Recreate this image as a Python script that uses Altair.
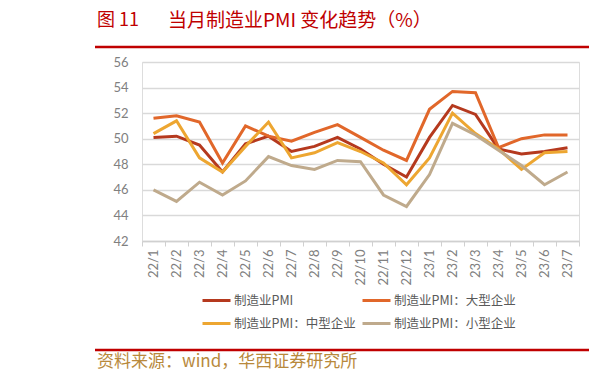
import altair as alt
import pandas as pd

months = ["22/1","22/2","22/3","22/4","22/5","22/6","22/7","22/8","22/9","22/10","22/11","22/12",
          "23/1","23/2","23/3","23/4","23/5","23/6","23/7"]
pmi_total  = [50.1,50.2,49.5,47.4,49.6,50.2,49.0,49.4,50.1,49.2,48.0,47.0,50.1,52.6,51.9,49.2,48.8,49.0,49.3]
pmi_large  = [51.6,51.8,51.3,48.1,51.0,50.2,49.8,50.5,51.1,50.1,49.1,48.3,52.3,53.7,53.6,49.3,50.0,50.3,50.3]
pmi_medium = [50.4,51.4,48.5,47.4,49.4,51.3,48.5,48.9,49.7,49.0,48.1,46.4,48.5,52.0,50.4,49.2,47.6,48.9,49.0]
pmi_small  = [46.0,45.1,46.6,45.6,46.7,48.6,47.9,47.6,48.3,48.2,45.6,44.7,47.2,51.2,50.3,49.1,47.9,46.4,47.4]

series_names = ["制造业PMI", "制造业PMI：大型企业", "制造业PMI：中型企业", "制造业PMI：小型企业"]
series_colors = ["#b5391e", "#e1672a", "#eda631", "#bfaa8c"]
# legend fills column by column: total, medium | large, small
legend_order = [series_names[0], series_names[2], series_names[1], series_names[3]]
legend_colors = [series_colors[0], series_colors[2], series_colors[1], series_colors[3]]

rows = []
for name, vals in zip(series_names, [pmi_total, pmi_large, pmi_medium, pmi_small]):
    for m, v in zip(months, vals):
        rows.append({"month": m, "series": name, "value": v})
df = pd.DataFrame(rows)

W, H = 437, 179

lines = alt.Chart(df).mark_line(strokeWidth=3).encode(
    x=alt.X("month:N", sort=months, title=None,
            scale=alt.Scale(paddingInner=0, paddingOuter=0),
            axis=alt.Axis(labelAngle=270, labelFont="Lato", labelFontSize=13, labelColor="#808080",
                          labelPadding=3, tickBand="extent", tickSize=5, tickColor="#d0d0d0",
                          domainColor="#d0d0d0", domainWidth=1.5, grid=False)),
    y=alt.Y("value:Q", title=None,
            scale=alt.Scale(domain=[42, 56], nice=False, zero=False),
            axis=alt.Axis(values=[42,44,46,48,50,52,54,56], labelFont="Lato", labelFontSize=13,
                          labelColor="#808080", labelPadding=14, ticks=False, domain=False,
                          grid=True, gridColor="#d9d9d9", gridWidth=1.5)),
    color=alt.Color("series:N",
                    scale=alt.Scale(domain=legend_order, range=legend_colors),
                    legend=alt.Legend(title=None, orient="none", legendX=59, legendY=223,
                                      columns=2, columnPadding=0, rowPadding=1,
                                      symbolType="stroke", symbolSize=784, symbolStrokeWidth=3,
                                      labelFont="Noto Sans CJK SC", labelFontSize=12.5,
                                      labelColor="#595959", labelOffset=2)),
)

title_a = alt.Chart(pd.DataFrame({"t": ["图 11"]})).mark_text(
    align="left", baseline="middle", font="Noto Sans CJK SC", fontSize=18, color="#c00000"
).encode(text="t:N", x=alt.value(-45), y=alt.value(-41))

title_b = alt.Chart(pd.DataFrame({"t": ["当月制造业PMI 变化趋势（%）"]})).mark_text(
    align="left", baseline="middle", font="Noto Sans CJK SC", fontSize=19, color="#c00000"
).encode(text="t:N", x=alt.value(26), y=alt.value(-41))

top_rule = alt.Chart(pd.DataFrame({"a": [0]})).mark_rule(color="#c00000", strokeWidth=2.5).encode(
    x=alt.value(-47), x2=alt.value(451), y=alt.value(-15))
bottom_rule = alt.Chart(pd.DataFrame({"a": [0]})).mark_rule(color="#c00000", strokeWidth=2.5).encode(
    x=alt.value(-47), x2=alt.value(451), y=alt.value(288))

source = alt.Chart(pd.DataFrame({"t": ["资料来源：wind，华西证券研究所"]})).mark_text(
    align="left", baseline="middle", font="Noto Sans CJK SC", fontSize=17, color="#b8893c"
).encode(text="t:N", x=alt.value(-45), y=alt.value(300))

chart = alt.layer(lines, title_a, title_b, top_rule, bottom_rule, source).properties(
    width=W, height=H,
    autosize=alt.AutoSizeParams(type="none"),
    padding={"left": 134, "top": 54, "right": 10, "bottom": 132},
).configure_view(stroke=None).configure(background="white")

chart.save("out.html", embed_options={"renderer": "svg", "actions": False})
